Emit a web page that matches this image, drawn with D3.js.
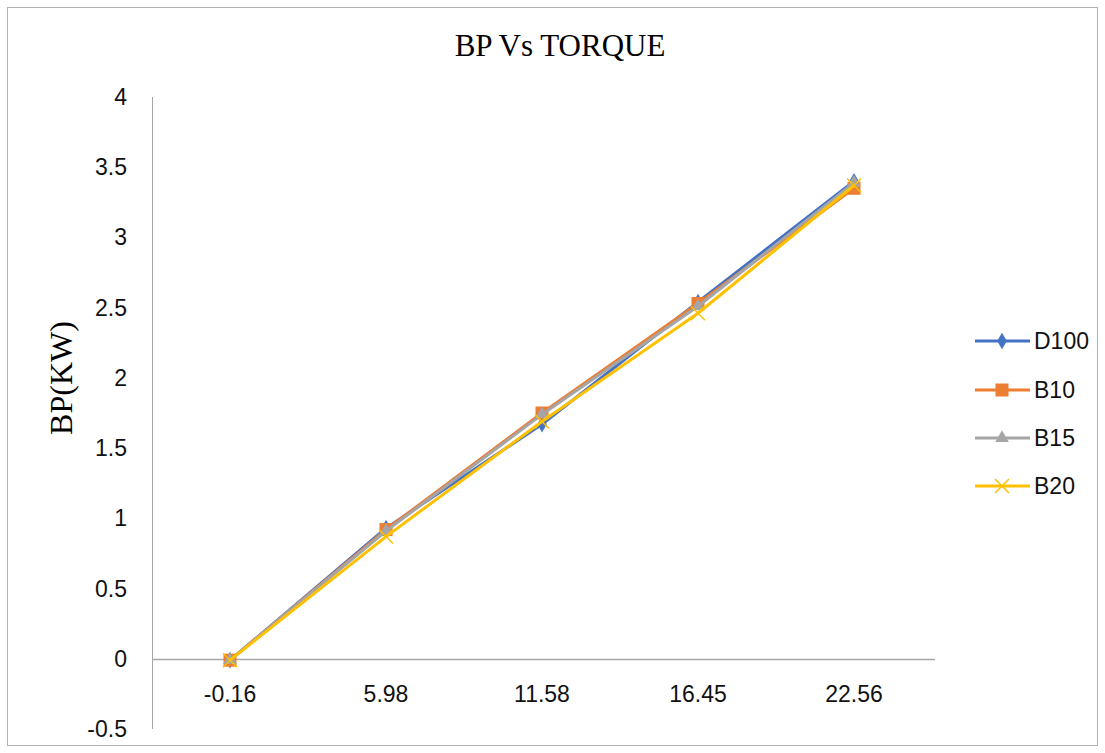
<!DOCTYPE html>
<html>
<head>
<meta charset="utf-8">
<script src="https://cdn.jsdelivr.net/npm/d3@7"></script>
<style>
  body { margin: 0; background: #fff; }
  svg { display: block; }
</style>
</head>
<body>
<svg id="chart" width="1105" height="753"></svg>
<script>
// Torque categories (x axis)
const torque = ["-0.16", "5.98", "11.58", "16.45", "22.56"];
// Brake power (kW) per fuel blend
const d100 = [-0.01, 0.93, 1.67, 2.54, 3.40];
const b10  = [-0.01, 0.92, 1.75, 2.53, 3.35];
const b15  = [-0.01, 0.91, 1.74, 2.51, 3.39];
const b20  = [-0.01, 0.87, 1.69, 2.46, 3.37];
const yTicks = [-0.5, 0, 0.5, 1, 1.5, 2, 2.5, 3, 3.5, 4];

const series = [
  { name: "D100", values: d100, color: "#4472C4", marker: "diamond" },
  { name: "B10",  values: b10,  color: "#ED7D31", marker: "square" },
  { name: "B15",  values: b15,  color: "#A5A5A5", marker: "triangle" },
  { name: "B20",  values: b20,  color: "#FFC000", marker: "cross" }
];

const svg = d3.select("#chart");
const sans = "Liberation Sans, Arial, sans-serif";
const serif = "Liberation Serif, Times New Roman, serif";

// outer chart border
svg.append("rect")
  .attr("x", 7.5).attr("y", 7.5).attr("width", 1090).attr("height", 738)
  .attr("fill", "#fff").attr("stroke", "#b0b0b0").attr("stroke-width", 1);

const plotLeft = 152, plotRight = 932, plotTop = 97, plotBottom = 729;

const x = d3.scalePoint().domain(torque).range([plotLeft, plotRight]).padding(0.5);
const y = d3.scaleLinear().domain([-0.5, 4]).range([plotBottom, plotTop]);

// y axis line (no ticks)
svg.append("line")
  .attr("x1", plotLeft + 0.5).attr("x2", plotLeft + 0.5)
  .attr("y1", y(4)).attr("y2", y(-0.5))
  .attr("stroke", "#a6a6a6").attr("stroke-width", 1);

// y tick labels
svg.append("g").selectAll("text").data(yTicks).join("text")
  .attr("x", 127).attr("y", d => y(d))
  .attr("dy", "0.35em")
  .attr("text-anchor", "end")
  .attr("font-family", sans)
  .attr("font-size", 23)
  .attr("fill", "#111")
  .text(d => d);

// x axis line at zero
svg.append("line")
  .attr("x1", plotLeft).attr("x2", 935)
  .attr("y1", Math.round(y(0)) + 0.5).attr("y2", Math.round(y(0)) + 0.5)
  .attr("stroke", "#a6a6a6").attr("stroke-width", 1.5);

// x category labels
svg.append("g").selectAll("text").data(torque).join("text")
  .attr("x", d => x(d)).attr("y", 702)
  .attr("text-anchor", "middle")
  .attr("font-family", sans)
  .attr("font-size", 23)
  .attr("fill", "#111")
  .text(d => d);

// title
svg.append("text")
  .attr("x", 560).attr("y", 56)
  .attr("text-anchor", "middle")
  .attr("font-family", serif)
  .attr("font-size", 31)
  .attr("fill", "#000")
  .text("BP Vs TORQUE");

// y axis title
svg.append("text")
  .attr("transform", "translate(72,378) rotate(-90)")
  .attr("text-anchor", "middle")
  .attr("font-family", serif)
  .attr("font-size", 32)
  .attr("fill", "#000")
  .text("BP(KW)");

function drawMarker(g, type, color) {
  if (type === "diamond") {
    g.append("path").attr("d", d3.symbol(d3.symbolDiamond, 80)()).attr("fill", color);
  } else if (type === "square") {
    g.append("rect").attr("x", -6.5).attr("y", -6.5).attr("width", 13).attr("height", 13).attr("fill", color);
  } else if (type === "triangle") {
    g.append("path").attr("d", d3.symbol(d3.symbolTriangle, 80)()).attr("fill", color);
  } else {
    g.append("path").attr("d", "M-7,-7L7,7M-7,7L7,-7")
      .attr("stroke", color).attr("stroke-width", 1.5).attr("fill", "none");
  }
}

const line = d3.line().x((d, i) => x(torque[i])).y(d => y(d));

const plot = svg.append("g");
series.forEach(s => {
  plot.append("path")
    .datum(s.values)
    .attr("d", line)
    .attr("fill", "none")
    .attr("stroke", s.color)
    .attr("stroke-width", 3)
    .attr("stroke-linejoin", "round");
  s.values.forEach((v, i) => {
    const g = plot.append("g").attr("transform", `translate(${x(torque[i])},${y(v)})`);
    drawMarker(g, s.marker, s.color);
  });
});

// legend
const legendY = [341, 390, 438, 486];
const legend = svg.append("g");
series.forEach((s, i) => {
  const g = legend.append("g").attr("transform", `translate(0,${legendY[i]})`);
  g.append("line").attr("x1", 975).attr("x2", 1030).attr("y1", 0).attr("y2", 0)
    .attr("stroke", s.color).attr("stroke-width", 3);
  const m = g.append("g").attr("transform", "translate(1002,0)");
  drawMarker(m, s.marker, s.color);
  g.append("text").attr("x", 1034).attr("y", 0).attr("dy", "0.35em")
    .attr("font-family", sans)
    .attr("font-size", 23).attr("fill", "#111")
    .text(s.name);
});
</script>
</body>
</html>
